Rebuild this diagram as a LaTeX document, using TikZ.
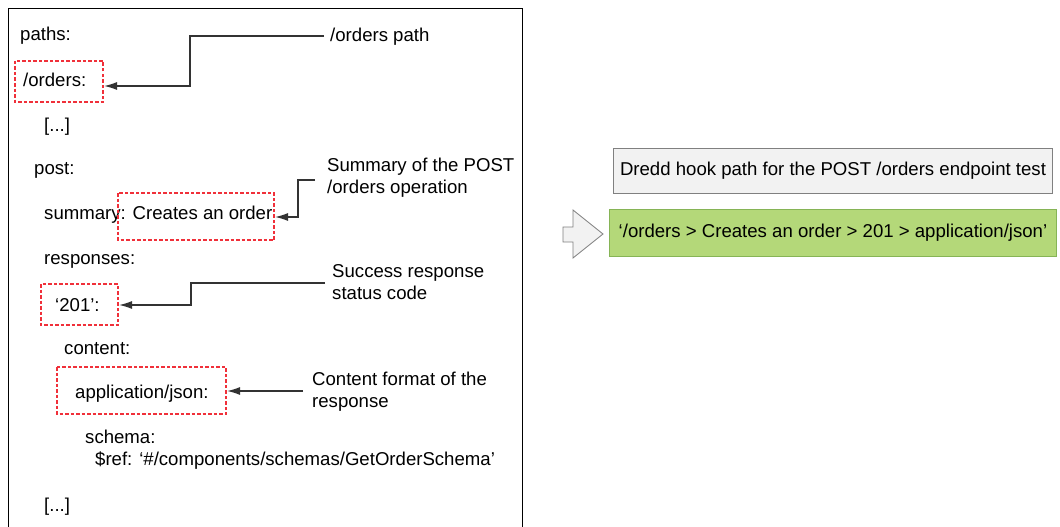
\documentclass[tikz,border=0pt]{standalone}
\usepackage{fontspec}
\setmainfont{Liberation Sans}
\usetikzlibrary{arrows.meta}
\definecolor{dred}{HTML}{F0303A}
\definecolor{lnk}{HTML}{333333}
\definecolor{grayfill}{HTML}{F2F2F2}
\definecolor{grayline}{HTML}{808080}
\definecolor{greenfill}{HTML}{B4D879}
\definecolor{greenline}{HTML}{86B456}
\tikzset{
  x=1pt,y=-1pt,
  txt/.style={inner sep=0pt,anchor=base west,font=\fontsize{18.6}{22}\selectfont},
  hl/.style={draw=dred,dashed,line width=1.1pt,dash pattern=on 3.5pt off 2pt},
  conn/.style={draw=lnk,line width=1.3pt,-{Latex[length=13pt,width=8pt]}},
  note/.style={inner sep=0pt,anchor=base west,align=left,font=\fontsize{18.6}{22}\selectfont},
  rbox/.style={minimum height=45pt,inner sep=0pt,font=\fontsize{18.6}{22}\selectfont}
}
\begin{document}
\begin{tikzpicture}
\useasboundingbox (0,0) rectangle (1060,527);
\draw[line width=1pt,black] (8,9) rectangle (522,540);
% code lines
\node[txt] (paths) at (20,41) {paths:};
\node[txt] (orders) at (23,86) {/orders:};
\node[txt] (dots1) at (44,131) {[...]};
\node[txt] (post) at (34,174) {post:};
\node[txt] (summary) at (44,219) {summary: Creates an order};
\node[txt] (responses) at (44,264) {responses:};
\node[txt] (c201) at (55,311) {‘201’:};
\node[txt] (content) at (64,354) {content:};
\node[txt] (appjson) at (75,398) {application/json:};
\node[txt] (schema) at (85,443) {schema:};
\node[txt] (ref) at (95,465) {\$ref: ‘\#/components/schemas/GetOrderSchema’};
\node[txt] (dots2) at (44,511) {[...]};
% dashed highlight boxes
\draw[hl] (15,61) rectangle (103,102);
\coordinate (hOrders) at (104,86);
\draw[hl] (118,193) rectangle (274,240);
\coordinate (hSummary) at (275,217);
\draw[hl] (41,284) rectangle (118,325);
\coordinate (h201) at (119,305);
\draw[hl] (57,367) rectangle (226,414);
\coordinate (hJson) at (227,391);
% notes
\node[note] (n1) at (330,42) {/orders path};
\node[note] (n2) at (327,193) {Summary of the POST\\/orders operation};
\node[note] (n3) at (332,299) {Success response\\status code};
\node[note] (n4) at (312,407) {Content format of the\\response};
\coordinate (s1) at (324,36);
\coordinate (s2) at (315,180);
\coordinate (s3) at (325,283);
\coordinate (s4) at (303,391);
\draw[conn] (s1) -- (190,36) -- (190,86) -- (hOrders);
\draw[conn] (s2) -- (298,180) -- (298,217) -- (hSummary);
\draw[conn] (s3) -- (191,283) -- (191,305) -- (h201);
\draw[conn] (s4) -- (hJson);
% right side
\node[rbox,draw=grayline,fill=grayfill,line width=1pt,minimum width=439pt,anchor=north west] (dredd) at (613,148) {Dredd hook path for the POST /orders endpoint test};
\node[rbox,draw=greenline,fill=greenfill,line width=1pt,minimum width=447pt,minimum height=47pt,anchor=north west] (hook) at (609,209) {‘/orders > Creates an order > 201 > application/json’};
\draw[draw=grayline,fill=grayfill,line width=0.8pt] (563,227) -- (573,227) -- (573,210) -- (603,234) -- (573,258) -- (573,242) -- (563,242) -- cycle;
\end{tikzpicture}
\end{document}
